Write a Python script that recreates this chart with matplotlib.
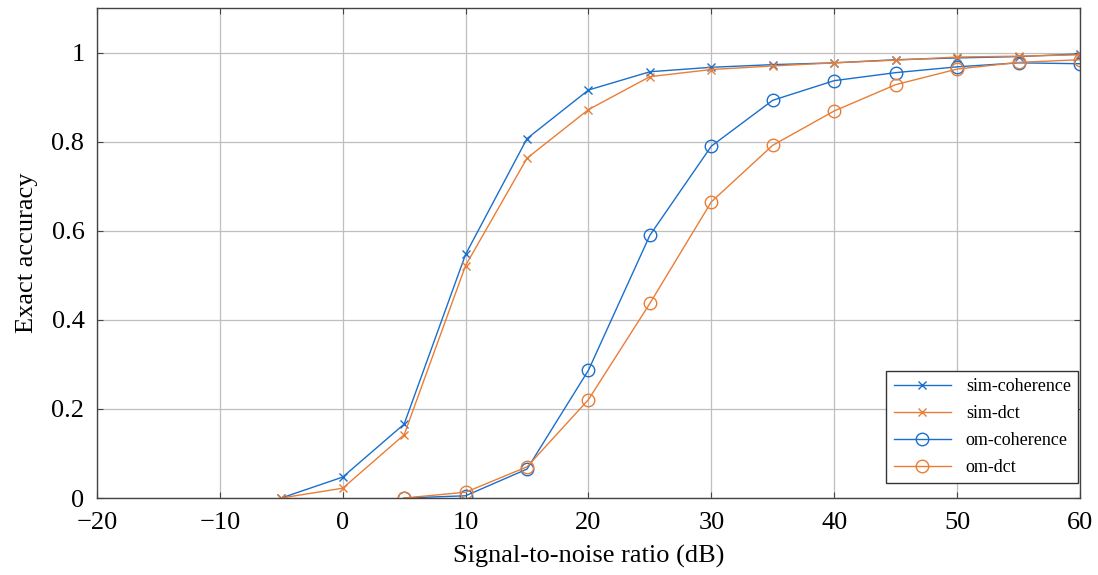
import matplotlib.pyplot as plt

plt.rcParams['font.family'] = ['Liberation Serif', 'DejaVu Serif']

snr_sim = [-5, 0, 5, 10, 15, 20, 25, 30, 35, 40, 45, 50, 55, 60]
sim_coherence = [0.0, 0.047, 0.166, 0.547, 0.807, 0.916, 0.957, 0.967, 0.973, 0.977, 0.984, 0.988, 0.991, 0.997]
sim_dct = [0.0, 0.022, 0.142, 0.522, 0.763, 0.872, 0.946, 0.962, 0.970, 0.977, 0.983, 0.990, 0.992, 0.995]

snr_om = [5, 10, 15, 20, 25, 30, 35, 40, 45, 50, 55, 60]
om_coherence = [0.0, 0.005, 0.065, 0.287, 0.590, 0.790, 0.893, 0.937, 0.955, 0.968, 0.977, 0.975]
om_dct = [0.0, 0.013, 0.070, 0.221, 0.437, 0.665, 0.792, 0.869, 0.928, 0.963, 0.978, 0.984]

blue = '#1a6fcc'
orange = '#ea7d35'

fig = plt.figure(figsize=(10.98, 5.75), dpi=100)
ax = fig.add_axes([0.0883, 0.1339, 0.8953, 0.8521])

ax.plot(snr_sim, sim_coherence, color=blue, lw=1.0, marker='x', ms=6, mew=1.0, label='sim-coherence')
ax.plot(snr_sim, sim_dct, color=orange, lw=1.0, marker='x', ms=6, mew=1.0, label='sim-dct')
ax.plot(snr_om, om_coherence, color=blue, lw=1.0, marker='o', ms=9, mfc='none', mew=1.0, label='om-coherence')
ax.plot(snr_om, om_dct, color=orange, lw=1.0, marker='o', ms=9, mfc='none', mew=1.0, label='om-dct')

ax.set_xlim(-20, 60)
ax.set_ylim(0, 1.1)
ax.set_xticks(range(-20, 61, 10))
ax.set_xticklabels(['\u221220', '\u221210', '0', '10', '20', '30', '40', '50', '60'])
ax.set_yticks([0, 0.2, 0.4, 0.6, 0.8, 1.0])
ax.set_yticklabels(['0', '0.2', '0.4', '0.6', '0.8', '1'])
ax.grid(True, color='#bfbfbf', lw=0.9)
ax.set_axisbelow(True)
ax.tick_params(direction='in', top=True, right=True, labelsize=19, length=4, color='#444444')
ax.tick_params(axis='y', pad=9)
ax.tick_params(axis='x', pad=10)
for s in ax.spines.values():
    s.set_color('#444444')
    s.set_linewidth(1.0)

ax.set_xlabel('Signal-to-noise ratio (dB)', fontsize=19, labelpad=8)
ax.set_ylabel('Exact accuracy', fontsize=19, labelpad=10)

leg = ax.legend(loc='lower right', bbox_to_anchor=(0.998, 0.03), borderaxespad=0,
                fontsize=13, fancybox=False, edgecolor='#333333',
                framealpha=1, handlelength=3.2, labelspacing=0.55)
leg.get_frame().set_linewidth(1.0)

fig.savefig('out.png', dpi=100)
